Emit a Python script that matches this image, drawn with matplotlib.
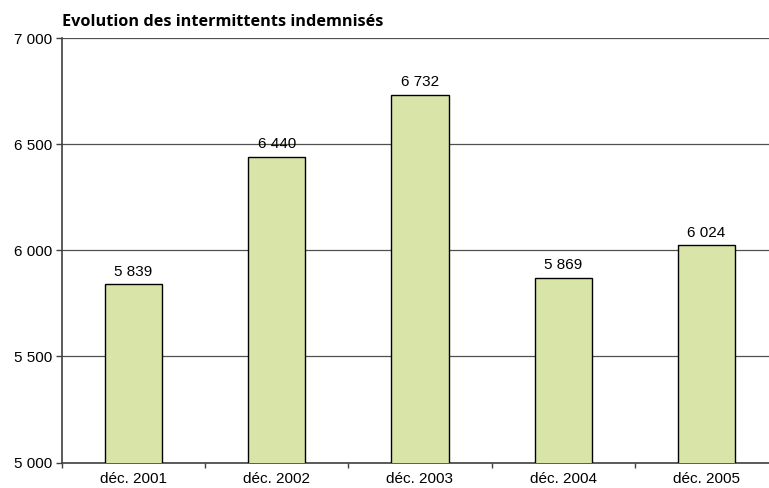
import numpy as np
import matplotlib.pyplot as plt

# Données
periodes = ['déc. 2001', 'déc. 2002', 'déc. 2003', 'déc. 2004', 'déc. 2005']
indemnises = [5839, 6440, 6732, 5869, 6024]
y_ticks = [5000, 5500, 6000, 6500, 7000]


def fmt(v):
    return f'{v:,}'.replace(',', ' ')


fig = plt.figure(figsize=(7.69, 4.88), dpi=100)
# l'axe déborde un peu à droite, comme sur l'original (graphique rogné)
ax = fig.add_axes([61.7 / 769, 1 - 462.5 / 488, 716.5 / 769, 424.5 / 488])

x = np.arange(len(periodes))
bars = ax.bar(x, indemnises, width=0.4, color='#d8e4a8', edgecolor='black',
              linewidth=1.0, zorder=3)

for b, v in zip(bars, indemnises):
    ax.annotate(fmt(v), (b.get_x() + b.get_width() / 2, v), xytext=(0, 4),
                textcoords='offset points', ha='center', va='bottom',
                fontsize=11, family='Liberation Sans')

ax.set_xlim(-0.5, len(periodes) - 0.5)
ax.set_ylim(5000, 7000)
ax.set_yticks(y_ticks)
ax.set_yticklabels([fmt(t) for t in y_ticks], fontsize=11, family='Liberation Sans')
ax.yaxis.grid(True, color='#505050', linewidth=0.9, zorder=0)

ax.set_xticks(x)
ax.set_xticklabels(periodes, fontsize=11, family='Liberation Sans')
ax.tick_params(axis='x', length=0, pad=7)
ax.set_xticks(np.arange(len(periodes) + 1) - 0.5, minor=True)
ax.tick_params(axis='x', which='minor', length=3.5, width=1, color='#404040')
ax.tick_params(axis='y', length=4, width=1, color='#404040', pad=3)

ax.spines['top'].set_visible(False)
ax.spines['right'].set_visible(False)
for s in ('left', 'bottom'):
    ax.spines[s].set_color('#404040')
    ax.spines[s].set_linewidth(1.2)

fig.text(62 / 769, 1 - 22 / 488, 'Evolution des intermittents indemnisés',
         fontsize=11.7, fontweight='bold', family='Open Sans', va='center')

fig.savefig('out.png', dpi=100)
